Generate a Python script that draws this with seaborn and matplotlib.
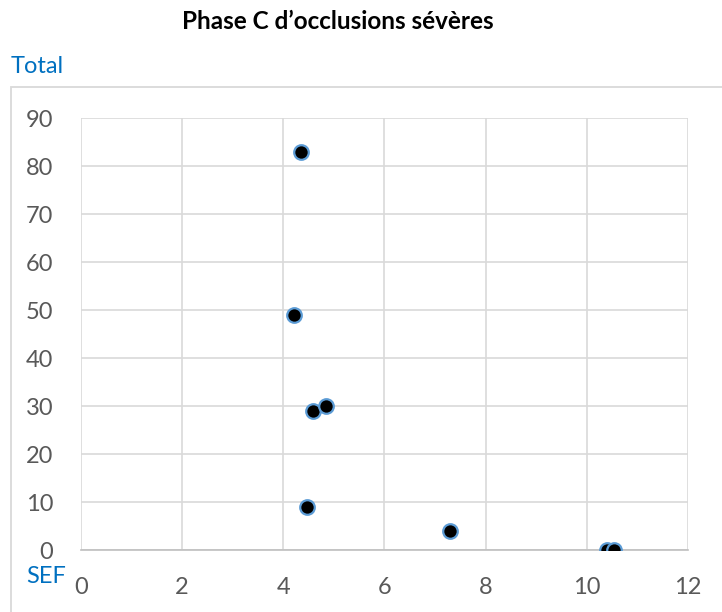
import matplotlib
matplotlib.use("Agg")
import matplotlib.pyplot as plt
import seaborn as sns
import pandas as pd
from matplotlib.patches import Rectangle

# SEF (x) against Total (y)
sef = [4.36, 4.22, 4.59, 4.85, 4.47, 7.29, 10.40, 10.54]
total = [83, 49, 29, 30, 9, 4, 0, 0]
x_ticks = [0, 2, 4, 6, 8, 10, 12]
y_ticks = [0, 10, 20, 30, 40, 50, 60, 70, 80, 90]

title = "Phase C d\u2019occlusions sévères"
x_name = "SEF"
y_name = "Total"

df = pd.DataFrame({"SEF": sef, "Total": total})

sns.set_theme(style="white")
plt.rcParams["font.family"] = ["Lato", "DejaVu Sans"]

fig = plt.figure(figsize=(7.22, 6.12), dpi=100)
ax = fig.add_axes([0.112, 0.101, 0.841, 0.706])

# light chart-area frame
fig.patches.append(Rectangle((11 / 722, -0.05), 1.0, 0.05 + 1 - 87 / 612,
                             transform=fig.transFigure, fill=False,
                             edgecolor="#D9D9D9", linewidth=1.3))

sns.scatterplot(data=df, x="SEF", y="Total", ax=ax, s=110,
                color="black", edgecolor="#5B9BD5", linewidth=1.6, zorder=3)

ax.set_xlim(0, 12)
ax.set_ylim(0, 90)
ax.set_xticks(x_ticks)
ax.set_yticks(y_ticks)
ax.grid(True, color="#D9D9D9", linewidth=1.2)
ax.set_axisbelow(True)
for side in ["top", "right", "left"]:
    ax.spines[side].set_visible(False)
ax.spines["bottom"].set_color("#BFBFBF")
ax.spines["bottom"].set_linewidth(1.2)
ax.tick_params(axis="both", length=0, labelsize=17, labelcolor="#595959")
ax.tick_params(axis="x", pad=19)
ax.tick_params(axis="y", pad=20)
ax.set_xlabel("")
ax.set_ylabel("")

fig.text(338 / 722, 1 - 29 / 612, title, ha="center", va="baseline",
         fontsize=17.5, fontweight="bold", color="black")
fig.text(11 / 722, 1 - 73 / 612, y_name, ha="left", va="baseline",
         fontsize=17, color="#0070C0")
fig.text(26 / 722, 1 - 583 / 612, x_name, ha="left", va="baseline",
         fontsize=17, color="#0070C0")

fig.savefig("out.png", dpi=100)
